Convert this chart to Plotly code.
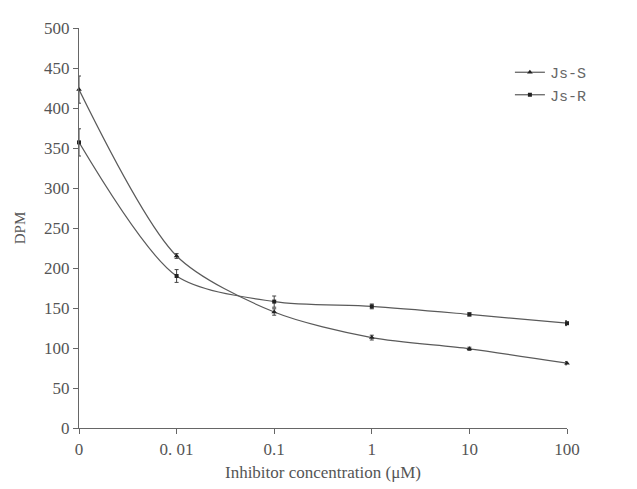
import plotly.graph_objects as go

categories = ["0", "0. 01", "0.1", "1", "10", "100"]
js_s = [423, 215, 145, 113, 99, 81]
js_s_err = [17, 3, 4, 3, 2, 2]
js_r = [357, 190, 158, 152, 142, 131]
js_r_err = [17, 8, 7, 3, 2, 3]
y_ticks = [0, 50, 100, 150, 200, 250, 300, 350, 400, 450, 500]

x = list(range(len(categories)))
line_col = "#5a5a5a"
fig = go.Figure()
fig.add_trace(go.Scatter(
    x=x, y=js_s, name="Js-S", mode="lines+markers",
    line=dict(color=line_col, width=1.2, shape="spline", smoothing=0.8),
    marker=dict(symbol="triangle-up", size=5, color="#222"),
    error_y=dict(type="data", array=js_s_err, color="#444", thickness=1, width=2),
    cliponaxis=False))
fig.add_trace(go.Scatter(
    x=x, y=js_r, name="Js-R", mode="lines+markers",
    line=dict(color=line_col, width=1.2, shape="spline", smoothing=0.8),
    marker=dict(symbol="square", size=4, color="#222"),
    error_y=dict(type="data", array=js_r_err, color="#444", thickness=1, width=2),
    cliponaxis=False))

fig.update_layout(
    width=637, height=489,
    margin=dict(l=71, r=78, t=11, b=69),
    paper_bgcolor="white", plot_bgcolor="white",
    font=dict(family="Liberation Serif", size=17, color="#555"),
    legend=dict(x=0.883, y=0.93, xanchor="left", yanchor="top",
                font=dict(family="Liberation Mono", size=15, color="#666"),
                bgcolor="rgba(0,0,0,0)", tracegroupgap=0),
    showlegend=True,
)
fig.update_xaxes(
    range=[0, 5], tickvals=x, ticktext=categories,
    showline=True, linecolor="#666", linewidth=1.2,
    ticks="outside", ticklen=5, tickcolor="#666",
    showgrid=False, zeroline=False,
    title=dict(text="Inhibitor concentration (μM)", standoff=8,
               font=dict(family="Liberation Serif", size=17, color="#555")),
)
fig.update_yaxes(
    range=[0, 500], tickvals=y_ticks,
    showline=True, linecolor="#666", linewidth=1.2,
    ticks="outside", ticklen=5, tickcolor="#666",
    showgrid=False, zeroline=False,
    title=dict(text="DPM", standoff=14,
               font=dict(family="Liberation Serif", size=15, color="#555")),
)
fig.write_html("out.html")
